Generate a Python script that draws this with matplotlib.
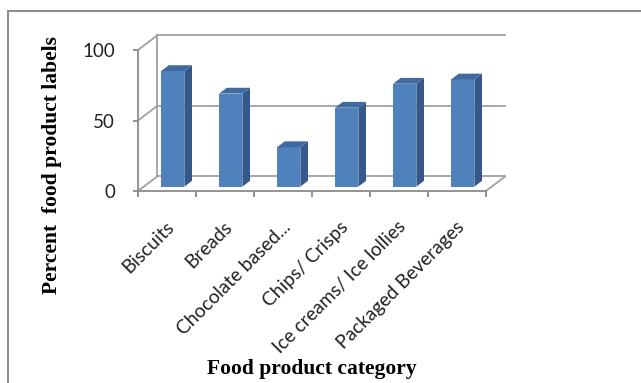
import matplotlib

matplotlib.use("Agg")

import matplotlib.pyplot as plt
from matplotlib.lines import Line2D
from matplotlib.patches import Polygon
from matplotlib.transforms import ScaledTranslation

categories = [
    "Biscuits",
    "Breads",
    "Chocolate based...",
    "Chips/ Crisps",
    "Ice creams/ Ice lollies",
    "Packaged Beverages",
]
percent = [82, 66, 28, 56, 73, 76]
y_ticks = [0, 50, 100]

FRONT = "#4f81bd"
SIDE = "#35598a"
TOP = "#3f6a9f"
GRID = "#a0a0a0"
AXIS = "#8a8a8a"

# fake-3D geometry, in data units: depth of the floor and where the bars sit in it
DX, DY = 0.33, 10.3
BAR_W = 0.4
D0, D1 = 0.3, 0.7

fig = plt.figure(figsize=(6.41, 3.83), dpi=100)
ax = fig.add_axes([138 / 641, 192 / 383, 348 / 641, 141 / 383])
ax.set_xlim(0, len(categories))
ax.set_ylim(0, 100)
ax.patch.set_visible(False)

# back wall gridlines and side wall edges
n = len(categories)
for v in y_ticks:
    ax.plot([DX, n + DX], [v + DY, v + DY], color=GRID, lw=1.3, clip_on=False, zorder=1)
    ax.plot([0, DX], [v, v + DY], color=GRID, lw=1.3, clip_on=False, zorder=1)
ax.plot([DX, DX], [DY, 100 + DY], color=GRID, lw=1.3, clip_on=False, zorder=1)
ax.plot([n, n + DX], [0, DY], color=GRID, lw=1.3, clip_on=False, zorder=1)

# bars: front face via bar(), side and top faces as polygons
x_left = [i + (1 - BAR_W) / 2 + D0 * DX for i in range(n)]
base = D0 * DY
ax.bar(x_left, percent, width=BAR_W, bottom=base, align="edge",
       color=FRONT, edgecolor="none", zorder=3, clip_on=False)
ddx, ddy = (D1 - D0) * DX, (D1 - D0) * DY
for xl, v in zip(x_left, percent):
    xr = xl + BAR_W
    top = base + v
    ax.add_patch(Polygon([(xr, base), (xr + ddx, base + ddy), (xr + ddx, top + ddy), (xr, top)],
                         closed=True, facecolor=SIDE, edgecolor="none", zorder=3, clip_on=False))
    ax.add_patch(Polygon([(xl, top), (xr, top), (xr + ddx, top + ddy), (xl + ddx, top + ddy)],
                         closed=True, facecolor=TOP, edgecolor="none", zorder=3, clip_on=False))

# front axes
for side in ("top", "right"):
    ax.spines[side].set_visible(False)
for side in ("left", "bottom"):
    ax.spines[side].set_color(AXIS)
    ax.spines[side].set_linewidth(1.3)
ax.set_yticks(y_ticks)
ax.set_yticklabels([str(t) for t in y_ticks], fontsize=13.5, color="#222222", family="Lato")
ax.tick_params(axis="y", length=3.6, width=1.3, color=AXIS, pad=13)
ax.set_xticks(range(n + 1))
ax.set_xticklabels([])
ax.tick_params(axis="x", length=4.3, width=1.3, color=AXIS)

shift = ScaledTranslation(4.5 / 100, -33 / 100, fig.dpi_scale_trans)
for i, name in enumerate(categories):
    ax.text(i + 0.5, 0, name, transform=ax.transData + shift, rotation=45,
            rotation_mode="anchor", ha="right", va="center",
            fontsize=13.8, color="#222222", family="Lato")

fig.text(52 / 641, 1 - 165 / 383, "Percent  food product labels", rotation=90,
         ha="center", va="center", fontsize=15.5, fontweight="bold",
         family="Liberation Serif")
fig.text(312 / 641, 1 - 369 / 383, "Food product category", ha="center", va="center",
         fontsize=15.5, fontweight="bold", family="Liberation Serif")

# chart frame
fig.add_artist(Line2D([8 / 641, 8 / 641], [0, 1 - 11 / 383], transform=fig.transFigure,
                      color="#8c8c8c", lw=1.4))
fig.add_artist(Line2D([8 / 641, 1], [1 - 11 / 383, 1 - 11 / 383], transform=fig.transFigure,
                      color="#8c8c8c", lw=1.4))

fig.savefig("out.png", dpi=100, facecolor="white")
